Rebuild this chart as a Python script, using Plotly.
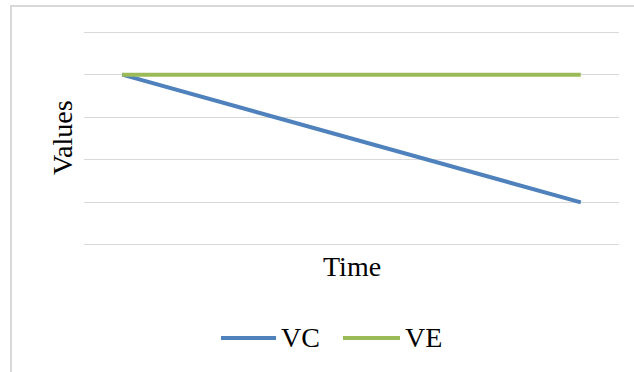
import plotly.graph_objects as go

# Series data
time_points = [1, 2, 3, 4, 5, 6, 7]
vc_values = [4.0, 3.5, 3.0, 2.5, 2.0, 1.5, 1.0]
ve_values = [4.0, 4.0, 4.0, 4.0, 4.0, 4.0, 4.0]
series_names = ["VC", "VE"]
series_colors = ["#4F81BD", "#9BBB59"]
y_gridlines = [0, 1, 2, 3, 4, 5]

W, H = 634, 372
FONT = "Liberation Serif, Times New Roman, serif"

def px_x(p):
    return p / W

def px_y(p):
    return 1 - p / H

fig = go.Figure()
for name, vals, col in zip(series_names, [vc_values, ve_values], series_colors):
    fig.add_trace(go.Scatter(
        x=time_points, y=vals, mode="lines", name=name,
        line=dict(color=col, width=4), showlegend=False,
    ))

# Outer frame of the chart area
fig.add_shape(type="rect", xref="paper", yref="paper",
              x0=px_x(11), x1=1.2, y0=-0.2, y1=px_y(6),
              line=dict(color="#D9D9D9", width=2), layer="below")

# Axis titles
fig.add_annotation(text="Time", xref="paper", yref="paper",
                   x=px_x(352), y=px_y(266), xanchor="center", yanchor="middle",
                   showarrow=False,
                   font=dict(family=FONT, size=28, color="#000000"))
fig.add_annotation(text="Values", xref="paper", yref="paper",
                   x=px_x(62), y=px_y(138), xanchor="center", yanchor="middle",
                   showarrow=False, textangle=-90,
                   font=dict(family=FONT, size=28, color="#000000"))

# Legend row
legend_items = [(221, 276, 279), (343, 400, 403)]
for (lx0, lx1, tx), name, col in zip(legend_items, series_names, series_colors):
    fig.add_shape(type="line", xref="paper", yref="paper",
                  x0=px_x(lx0), x1=px_x(lx1), y0=px_y(338), y1=px_y(338),
                  line=dict(color=col, width=4))
    fig.add_annotation(text=name, xref="paper", yref="paper",
                       x=px_x(tx), y=px_y(337), xanchor="left", yanchor="middle",
                       showarrow=False,
                       font=dict(family=FONT, size=28, color="#000000"))

fig.update_layout(
    width=W, height=H,
    margin=dict(l=0, r=0, t=0, b=0),
    paper_bgcolor="white", plot_bgcolor="white",
    xaxis=dict(domain=[px_x(84), px_x(619)], range=[0.5, 7.5],
               showgrid=False, zeroline=False, showticklabels=False,
               showline=False, ticks=""),
    yaxis=dict(domain=[px_y(246), px_y(31)], range=[-0.025, 5.025],
               tickmode="array", tickvals=y_gridlines,
               showgrid=True, gridcolor="#D9D9D9", gridwidth=1,
               zeroline=False, showticklabels=False, showline=False, ticks=""),
)

fig.write_html("out.html")
